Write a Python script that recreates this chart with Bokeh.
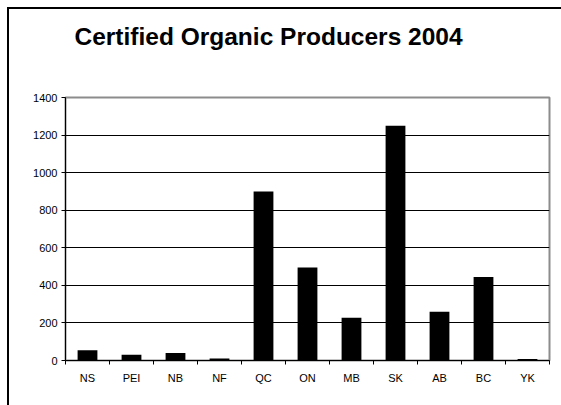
from bokeh.plotting import figure
from bokeh.models import FixedTicker, Range1d, Title, InlineStyleSheet
from bokeh.embed import file_html
from bokeh.resources import INLINE

categories = ["NS", "PEI", "NB", "NF", "QC", "ON", "MB", "SK", "AB", "BC", "YK"]
producers = [55, 30, 40, 10, 900, 495, 228, 1250, 260, 445, 8]
y_ticks = [0, 200, 400, 600, 800, 1000, 1200, 1400]
title_text = "Certified Organic Producers 2004"

centers = [i + 0.5 for i in range(len(categories))]
bounds = list(range(len(categories) + 1))

frame_css = InlineStyleSheet(css=""":host(.outerframe) {
  background-image: linear-gradient(#000,#000), linear-gradient(#000,#000);
  background-position: right 552px bottom 0px, right 0px top 7px;
  background-size: 2px 398px, 554px 2px;
  background-repeat: no-repeat;
}""")

p = figure(width=561, height=405, output_backend="svg", toolbar_location=None,
           x_range=Range1d(0, len(categories)), y_range=Range1d(0, 1400),
           min_border_left=65, min_border_right=12, min_border_top=97, min_border_bottom=45,
           css_classes=["outerframe"], stylesheets=[frame_css])
p.border_fill_color = None
p.background_fill_color = "white"

# spacer (closest to the plot area) then the visible title above it
p.add_layout(Title(text=" ", text_font_size="10px", standoff=35), "above")
p.add_layout(Title(text=title_text, text_font="Liberation Sans", text_font_size="24.5px",
                   text_font_style="bold", text_color="black", align="left",
                   offset=9, standoff=0), "above")

p.vbar(x=centers, top=producers, width=0.45, bottom=0, fill_color="black", line_color=None)

p.outline_line_color = "#8c8c8c"
p.outline_line_width = 2

p.xgrid.grid_line_color = None
p.ygrid.ticker = FixedTicker(ticks=y_ticks)
p.ygrid.grid_line_color = "black"
p.ygrid.grid_line_width = 1

xa = p.xaxis[0]
xa.ticker = FixedTicker(ticks=centers, minor_ticks=bounds)
xa.major_label_overrides = {c: lab for c, lab in zip(centers, categories)}
xa.major_tick_line_color = None
xa.major_tick_out = 0
xa.major_tick_in = 0
xa.minor_tick_line_color = "black"
xa.minor_tick_out = 4
xa.minor_tick_in = 0
xa.major_label_standoff = 7
xa.axis_line_color = "black"

ya = p.yaxis[0]
ya.ticker = FixedTicker(ticks=y_ticks)
ya.minor_tick_line_color = None
ya.major_tick_out = 4
ya.major_tick_in = 0
ya.major_label_standoff = 4
ya.axis_line_color = "black"

for ax in (xa, ya):
    ax.major_label_text_font = "Liberation Sans"
    ax.major_label_text_font_size = "11px"
    ax.major_label_text_color = "black"

open("out.html", "w").write(file_html(p, INLINE))
